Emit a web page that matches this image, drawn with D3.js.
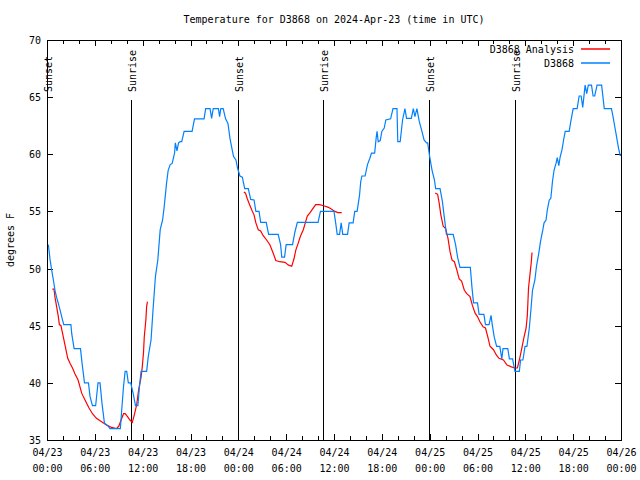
<!DOCTYPE html>
<html>
<head>
<meta charset="utf-8">
<script src="https://cdn.jsdelivr.net/npm/d3@7"></script>
<style>
  body { margin: 0; background: #fff; }
  text { font-family: "DejaVu Sans Mono", "Liberation Mono", monospace; font-size: 10px; fill: #000; }
</style>
</head>
<body>
<script>
const width = 640, height = 480;
const margin = { top: 40, right: 19, bottom: 40, left: 47 };

const title = "Temperature for D3868 on 2024-Apr-23 (time in UTC)";
const yLabel = "degrees F";
const seriesNames = ["D3868 Analysis", "D3868"];
const seriesColors = ["#ff0000", "#0080ff"];

// hours since 2024-04-23 00:00 UTC
const eventLabels = ["Sunset", "Sunrise", "Sunset", "Sunrise", "Sunset", "Sunrise"];
const eventHours = [0, 10.54, 23.96, 34.62, 47.92, 58.7];

const yTicks = [35, 40, 45, 50, 55, 60, 65, 70];

// station observations [hour, degF]
const stationData = [
  [0.17,52.1],[0.38,50.8],[0.58,49.9],[0.8,49.0],[1.0,48.1],[1.2,47.5],[1.4,47.0],[1.63,46.4],[1.84,45.8],[2.1,45.1],
  [3.0,45.1],[3.1,44.3],[3.4,43.0],[4.2,43.0],[4.4,41.7],[4.7,40.0],[5.2,40.0],[5.4,38.8],[5.7,38.0],[6.1,38.0],
  [6.4,40.0],[6.65,40.0],[6.9,38.2],[7.2,36.5],[7.7,36.2],[7.9,36.0],[9.2,36.0],[9.37,37.6],[9.6,39.7],[9.8,41.0],
  [10.0,41.0],[10.2,40.0],[10.5,40.0],[10.8,39.1],[11.1,38.0],[11.4,38.0],[11.6,39.7],[11.8,41.0],[12.5,41.0],[12.7,42.3],
  [13.05,43.75],[13.3,46.4],[13.6,49.3],[13.9,50.75],[14.2,53.4],[14.5,54.25],[14.7,55.4],[15.0,57.5],[15.2,58.6],[15.45,59.1],
  [15.7,59.2],[16.0,60.1],[16.1,61.0],[16.3,60.3],[16.5,61.0],[16.7,61.1],[16.9,61.1],[17.2,62.0],[18.2,62.0],[18.5,63.1],
  [19.7,63.1],[19.9,64.0],[20.45,64.0],[20.65,63.15],[20.85,64.0],[21.5,64.0],[21.65,63.3],[21.8,64.0],[22.1,64.0],[22.4,63.1],
  [22.7,62.7],[22.95,61.4],[23.2,60.5],[23.4,59.8],[23.7,59.5],[23.9,58.8],[24.2,58.1],[24.5,58.0],[24.8,57.0],[25.25,57.0],
  [25.55,56.05],[25.97,56.0],[26.2,55.0],[26.6,55.0],[26.8,54.05],[27.5,54.05],[27.8,53.0],[29.0,53.0],[29.3,52.1],[29.45,51.0],
  [29.8,51.0],[30.0,52.1],[30.8,52.1],[31.1,53.2],[31.4,54.05],[34.0,54.05],[34.3,55.0],[36.0,55.0],[36.25,53.8],[36.4,53.0],
  [36.7,53.0],[36.9,54.0],[37.1,53.0],[37.7,53.0],[37.9,54.0],[38.4,54.0],[38.6,55.0],[38.9,55.0],[39.2,56.4],[39.35,57.6],
  [39.5,58.1],[39.9,58.1],[40.2,59.1],[40.5,59.65],[40.7,60.1],[41.1,60.1],[41.3,61.5],[41.4,62.0],[41.55,61.1],[41.8,61.2],
  [42.0,62.0],[42.3,62.3],[42.5,63.0],[43.1,63.1],[43.4,64.0],[43.9,64.0],[44.0,61.1],[44.3,61.1],[44.6,63.0],[44.9,64.0],
  [45.1,63.15],[45.7,63.15],[45.95,64.0],[46.15,63.3],[46.4,64.0],[46.7,62.85],[47.0,62.1],[47.3,61.25],[47.6,61.0],[47.75,61.0],
  [48.0,59.8],[48.3,58.6],[48.6,57.75],[48.75,57.0],[49.3,57.0],[49.6,55.85],[49.8,54.7],[50.1,53.0],[50.95,53.0],[51.25,52.1],
  [51.5,51.0],[51.8,50.1],[53.1,50.1],[53.3,48.4],[53.5,47.0],[54.0,47.0],[54.2,46.0],[54.8,46.0],[55.0,45.1],[55.45,45.1],
  [55.7,45.9],[55.85,45.1],[56.1,44.0],[56.4,43.2],[56.8,43.2],[57.05,42.1],[57.2,43.0],[57.8,43.0],[58.0,42.1],[58.4,42.1],
  [58.7,41.0],[59.25,41.0],[59.4,42.0],[59.7,42.0],[59.96,43.2],[60.2,43.2],[60.5,44.8],[60.7,46.4],[60.9,48.1],[61.2,49.0],
  [61.4,50.2],[61.7,51.4],[61.9,52.35],[62.2,53.4],[62.35,54.0],[62.6,54.25],[62.75,55.1],[63.0,56.0],[63.2,56.15],[63.4,57.6],
  [63.6,58.6],[63.85,59.2],[64.0,59.7],[64.2,59.0],[64.35,59.7],[64.6,60.4],[64.8,61.25],[65.0,62.0],[65.5,62.0],[65.7,62.85],
  [66.0,64.0],[66.5,64.0],[66.75,65.1],[67.0,65.1],[67.2,64.1],[67.5,66.05],[67.7,65.3],[67.9,66.05],[68.3,66.05],[68.5,65.1],
  [68.7,65.1],[69.0,66.05],[69.57,66.05],[69.9,64.0],[70.8,64.0],[71.0,63.3],[71.25,62.3],[71.45,61.5],[71.7,60.5],[71.9,59.9],
  [72.0,59.9]
];

// analysis, three separate runs
const analysisRuns = [
  [[0.67,48.2],[0.88,48.2],[1.0,47.5],[1.2,46.7],[1.42,45.8],[1.55,45.1],[1.75,45.0],[2.05,44.0],[2.35,43.0],[2.6,42.15],
   [2.9,41.7],[3.2,41.3],[3.5,40.8],[3.9,40.25],[4.35,39.1],[4.77,38.5],[5.27,37.8],[5.7,37.3],[6.2,36.9],[6.85,36.6],
   [7.5,36.3],[8.1,36.1],[8.7,36.0],[9.0,36.2],[9.3,36.75],[9.6,37.3],[9.8,37.3],[10.1,37.05],[10.4,36.75],[10.7,36.55],
   [10.95,37.2],[11.25,38.1],[11.5,39.4],[11.8,40.5],[11.95,41.4],[12.1,42.6],[12.2,44.0],[12.4,45.5],[12.5,46.7],[12.6,47.1]],
  [[24.7,56.7],[24.9,56.6],[25.1,56.15],[25.4,55.6],[25.7,55.1],[25.97,54.7],[26.2,54.0],[26.5,53.4],[26.8,53.3],[27.1,52.9],
   [27.55,52.5],[27.97,52.06],[28.4,51.3],[28.7,50.7],[29.2,50.6],[29.85,50.55],[30.3,50.3],[30.7,50.2],[31.0,50.9],[31.2,51.6],
   [31.5,52.2],[31.8,52.85],[32.15,53.4],[32.4,54.0],[32.65,54.6],[33.0,54.9],[33.3,55.2],[33.7,55.6],[34.2,55.6],[34.7,55.5],
   [35.3,55.36],[35.7,55.2],[36.1,55.0],[36.5,54.9],[36.97,54.9]],
  [[48.7,56.6],[49.0,56.5],[49.2,55.7],[49.4,54.7],[49.7,53.7],[50.0,53.5],[50.3,52.65],[50.55,51.5],[50.8,50.75],[51.1,50.6],
   [51.4,49.9],[51.7,49.1],[52.0,48.9],[52.35,48.1],[52.65,47.8],[53.06,47.55],[53.35,46.8],[53.7,46.1],[54.0,45.8],[54.3,45.35],
   [54.7,44.9],[55.0,44.8],[55.3,44.0],[55.57,43.2],[56.0,42.9],[56.4,42.4],[56.7,42.15],[57.25,42.0],[57.7,41.56],[58.25,41.4],
   [58.7,41.3],[59.0,41.3],[59.25,42.0],[59.55,43.0],[59.8,43.9],[60.1,44.8],[60.25,45.9],[60.4,48.3],[60.6,49.6],[60.75,50.6],
   [60.84,51.4]]
];

const t0 = Date.UTC(2024, 3, 23);
const toDate = h => new Date(t0 + h * 3600e3);

const svg = d3.select("body").append("svg")
  .attr("width", width)
  .attr("height", height);

const x = d3.scaleUtc()
  .domain([toDate(0), toDate(72)])
  .range([margin.left, width - margin.right]);
const y = d3.scaleLinear()
  .domain([35, 70])
  .range([height - margin.bottom, margin.top]);

const x0 = margin.left, x1 = width - margin.right;
const y0 = height - margin.bottom, y1 = margin.top;

// title
svg.append("text")
  .attr("x", (x0 + x1) / 2)
  .attr("y", 23)
  .attr("text-anchor", "middle")
  .text(title);

// y label
svg.append("text")
  .attr("transform", "translate(14," + ((y0 + y1) / 2) + ") rotate(-90)")
  .attr("text-anchor", "middle")
  .text(yLabel);

// tick marks (2h minor, 6h major), mirrored on top
const minorTicks = d3.range(0, 73, 2).map(toDate);
const majorTicks = d3.range(0, 73, 6).map(toDate);

const xAxis = d3.axisBottom(x)
  .tickValues(majorTicks)
  .tickSize(0)
  .tickPadding(9)
  .tickFormat("");
const gx = svg.append("g")
  .attr("transform", "translate(0," + y0 + ")")
  .call(xAxis);
gx.select(".domain").remove();
gx.selectAll(".tick text")
  .each(function(d) {
    const t = d3.select(this);
    t.append("tspan").attr("x", 0).attr("dy", "0.71em").text(d3.utcFormat("%m/%d")(d));
    t.append("tspan").attr("x", 0).attr("dy", "1.6em").text(d3.utcFormat("%H:%M")(d));
  });

const tickG = svg.append("g").attr("stroke", "#000").attr("stroke-width", 1);
minorTicks.forEach(d => {
  const isMajor = (d - t0) % (6 * 3600e3) === 0;
  const len = isMajor ? 6 : 4;
  const px = Math.round(x(d)) + 0.5;
  tickG.append("line").attr("x1", px).attr("x2", px).attr("y1", y0).attr("y2", y0 - len);
  tickG.append("line").attr("x1", px).attr("x2", px).attr("y1", y1).attr("y2", y1 + len);
});

const yAxis = d3.axisLeft(y)
  .tickValues(yTicks)
  .tickSize(0)
  .tickPadding(6);
const gy = svg.append("g")
  .attr("transform", "translate(" + x0 + ",0)")
  .call(yAxis);
gy.select(".domain").remove();
gy.selectAll(".tick text").attr("dy", "0.35em");

yTicks.forEach(v => {
  const py = Math.round(y(v)) + 0.5;
  tickG.append("line").attr("x1", x0).attr("x2", x0 + 6).attr("y1", py).attr("y2", py);
  tickG.append("line").attr("x1", x1).attr("x2", x1 - 6).attr("y1", py).attr("y2", py);
});

// sunrise / sunset markers
eventHours.forEach((h, i) => {
  const px = Math.round(x(toDate(h))) + 0.5;
  svg.append("line")
    .attr("x1", px).attr("x2", px)
    .attr("y1", 100).attr("y2", y0)
    .attr("stroke", "#000");
  svg.append("text")
    .attr("transform", "translate(" + (px + 4) + ",92) rotate(-90)")
    .attr("text-anchor", "start")
    .text(eventLabels[i]);
});

const line = d3.line()
  .x(d => x(toDate(d[0])))
  .y(d => y(d[1]));

const plot = svg.append("g");
analysisRuns.forEach(run => {
  plot.append("path")
    .attr("d", line(run))
    .attr("fill", "none")
    .attr("stroke", seriesColors[0])
    .attr("stroke-width", 1.2);
});
plot.append("path")
  .attr("d", line(stationData))
  .attr("fill", "none")
  .attr("stroke", seriesColors[1])
  .attr("stroke-width", 1.2);

// legend
const legend = svg.append("g");
seriesNames.forEach((name, i) => {
  const ly = 49 + i * 14;
  legend.append("text")
    .attr("x", 574).attr("y", ly).attr("dy", "0.35em")
    .attr("text-anchor", "end")
    .text(name);
  legend.append("line")
    .attr("x1", 581).attr("x2", 610)
    .attr("y1", ly).attr("y2", ly)
    .style("stroke", seriesColors[i])
    .style("stroke-width", 1.5);
});

// frame
svg.append("rect")
  .attr("x", x0 + 0.5).attr("y", y1 + 0.5)
  .attr("width", x1 - x0).attr("height", y0 - y1)
  .attr("fill", "none")
  .attr("stroke", "#000");
</script>
</body>
</html>
